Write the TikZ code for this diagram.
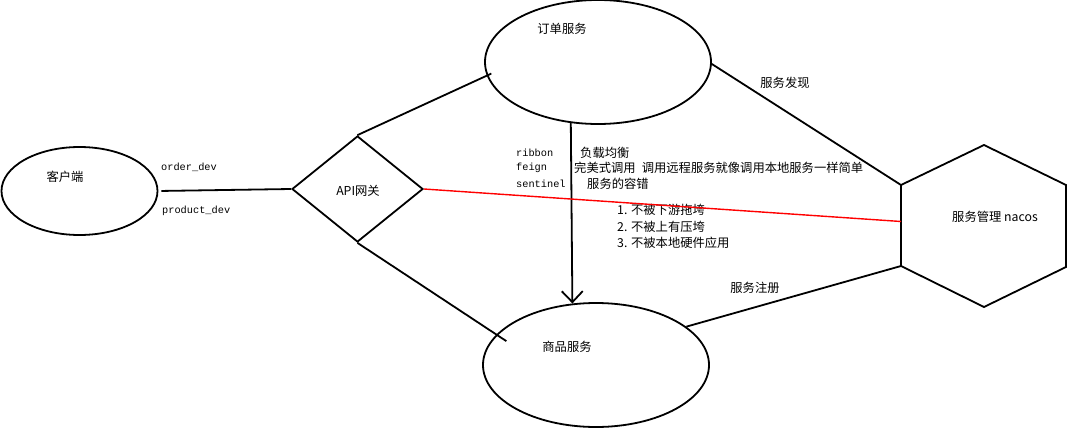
\documentclass[tikz,border=0pt]{standalone}
\usepackage{fontspec}
\setmainfont{Noto Sans CJK SC}
\newfontfamily\monofont{Liberation Mono}
\usetikzlibrary{shapes.geometric,arrows.meta}
\begin{document}
\begin{tikzpicture}[x=1pt,y=-1pt,
  line/.style={draw=black,line width=1.8pt},
  oval/.style={ellipse,draw=black,line width=1.8pt,minimum width=226pt,minimum height=124pt,inner sep=0pt},
  lbl/.style={font=\fontsize{12.3}{14}\selectfont,inner sep=0pt},
  mono/.style={font=\monofont\fontsize{10.3}{12}\selectfont,inner sep=0pt,anchor=west},
  note/.style={lbl,anchor=west}]
\fill[white] (0,0) rectangle (1082,428);
\useasboundingbox (0,0) rectangle (1082,428);
% shapes
\node[oval,minimum width=156pt,minimum height=88pt] (cli) at (79.5,191) {};
\node[oval] (ord) at (598,62) {};
\node[oval] (prod) at (596,365) {};
\node[diamond,draw=black,line width=1.8pt,minimum width=131pt,minimum height=106pt,inner sep=0pt] (gw) at (357.5,189) {};
\coordinate (hT) at (984,145);
\coordinate (hUR) at (1066,185);
\coordinate (hLR) at (1066,267);
\coordinate (hB) at (984,307);
\coordinate (hLL) at (901,266);
\coordinate (hUL) at (901,185);
\coordinate (hR) at (901,221.5);
\draw[line] (hT) -- (hUR) -- (hLR) -- (hB) -- (hLL) -- (hUL) -- cycle;
% labels
\node[lbl] (tcli) at (65,177) {客户端};
\node[lbl] (tord) at (562,29) {订单服务};
\node[lbl] (tprod) at (567,347) {商品服务};
\node[lbl] (tgw) at (358,191) {API网关};
\node[lbl] (tnac) at (995,217) {服务管理 nacos};
\node[lbl] (tfind) at (785,83) {服务发现};
\node[lbl] (treg) at (755,288) {服务注册};
\node[mono] (tod) at (161,167) {order\_dev};
\node[mono] (tpd) at (162,211) {product\_dev};
\node[mono] (trib) at (516,153) {ribbon};
\node[mono] (tfei) at (516,168) {feign};
\node[mono] (tsen) at (516,184) {sentinel};
\node[note] (n1) at (580,153) {负载均衡};
\node[note] (n2) at (574,168) {完美式调用\hspace{0.5em}调用远程服务就像调用本地服务一样简单};
\node[note] (n3) at (587,184) {服务的容错};
\node[note] (n4) at (617,210) {1. 不被下游拖垮};
\node[note] (n5) at (617,227) {2. 不被上有压垮};
\node[note] (n6) at (617,243) {3. 不被本地硬件应用};
% connectors
\draw[line,shorten <=3pt] (cli.east) -- (gw.west);
\draw[line,shorten >=-5pt] (gw.north) -- (ord.187.8);
\draw[line,shorten >=-12pt] (gw.south) -- (prod.163.8);
\draw[line,-{Straight Barb[length=11pt,width=21pt]}] (ord.246.7) -- (prod.111.6);
\draw[line] (ord.-1) -- (hUL);
\draw[line] (prod.23.1) -- (hLL);
\draw[red,line width=1.4pt] (gw.east) -- (hR);
\end{tikzpicture}
\end{document}
